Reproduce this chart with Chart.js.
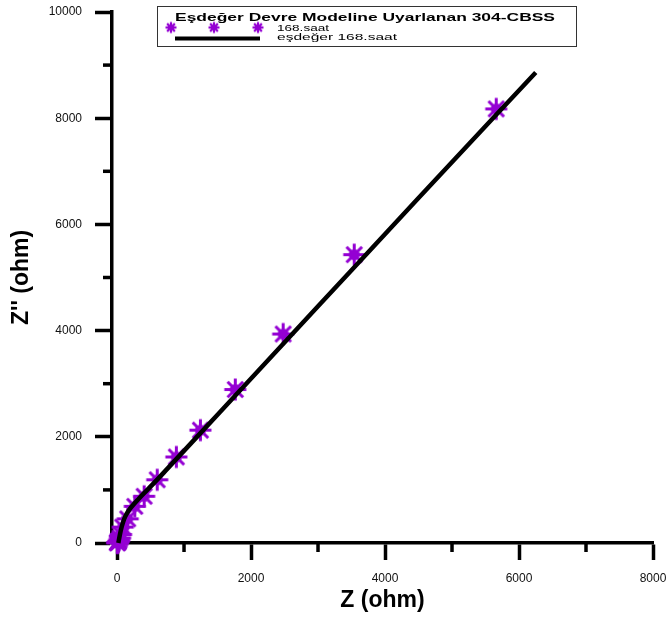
<!DOCTYPE html>
<html>
<head>
<meta charset="utf-8">
<script src="https://cdn.jsdelivr.net/npm/chart.js@4/dist/chart.umd.min.js"></script>
<style>
  html, body { margin: 0; padding: 0; background: #fff; }
  #wrap { width: 671px; height: 618px; }
</style>
</head>
<body>
<div id="wrap"><canvas id="c" width="671" height="618"></canvas></div>
<script>
// Measured impedance, 168 h immersion (Nyquist: Z' vs Z'')
const measZre = [5660, 3540, 2480, 1765, 1245, 885, 600, 405, 265, 160, 85, 60, 45, 32, 22, 14, 8, 4];
const measZim = [8175, 5430, 3935, 2890, 2125, 1620, 1190, 880, 690, 455, 300, 160, 95, 55, 30, 15, 8, 3];

// Equivalent-circuit fit curve
const fitZre = [20, 45, 70, 95, 120, 160, 205, 600, 1500, 3000, 4500, 6250];
const fitZim = [0, 170, 306, 410, 493, 585, 663, 1193, 2417, 4457, 6497, 8860];

// Axis ticks
const xTicks = [0, 1000, 2000, 3000, 4000, 5000, 6000, 7000, 8000];
const yTicks = [0, 1000, 2000, 3000, 4000, 5000, 6000, 7000, 8000, 9000, 10000];

const legendTitle = 'Eşdeğer Devre Modeline Uyarlanan 304-CBSS';
const measLabel = '168.saat';
const fitLabel = 'eşdeğer 168.saat';

const PURPLE = '#9400d3';
const FONT = "'Liberation Sans', Arial, sans-serif";

function starMarker(r, core, lw, color) {
  const size = Math.ceil(2 * r + lw + 2);
  const c = document.createElement('canvas');
  c.width = c.height = size;
  const g = c.getContext('2d');
  const m = size / 2;
  g.strokeStyle = color;
  g.lineWidth = lw;
  for (let i = 0; i < 4; i++) {
    const a = i * Math.PI / 4;
    g.beginPath();
    g.moveTo(m - r * Math.cos(a), m - r * Math.sin(a));
    g.lineTo(m + r * Math.cos(a), m + r * Math.sin(a));
    g.stroke();
  }
  g.fillStyle = color;
  g.beginPath();
  g.arc(m, m, core, 0, Math.PI * 2);
  g.fill();
  return c;
}

const bigStar = starMarker(11, 5.5, 3, PURPLE);
const smallStar = starMarker(5.5, 2.8, 2.2, PURPLE);

const isMajor = v => v % 2000 === 0;

// Minor ticks (shorter) on both axes
const minorTicks = {
  id: 'minorTicks',
  afterDraw(chart) {
    const { ctx } = chart;
    const xs = chart.scales.x, ys = chart.scales.y;
    ctx.save();
    ctx.strokeStyle = '#000';
    ctx.lineWidth = 3.5;
    xTicks.filter(v => !isMajor(v)).forEach(v => {
      const px = xs.getPixelForValue(v);
      ctx.beginPath();
      ctx.moveTo(px, chart.chartArea.bottom);
      ctx.lineTo(px, chart.chartArea.bottom + 9);
      ctx.stroke();
    });
    yTicks.filter(v => !isMajor(v)).forEach(v => {
      const py = ys.getPixelForValue(v);
      ctx.beginPath();
      ctx.moveTo(chart.chartArea.left, py);
      ctx.lineTo(chart.chartArea.left - 9, py);
      ctx.stroke();
    });
    ctx.restore();
  }
};

// Text drawn with a horizontal stretch to a given width
function stretchText(ctx, text, x, y, width) {
  const w = ctx.measureText(text).width;
  ctx.save();
  ctx.translate(x, y);
  ctx.scale(width / w, 1);
  ctx.fillText(text, 0, 0);
  ctx.restore();
}

// Boxed legend with title, marker row and line row
const boxLegend = {
  id: 'boxLegend',
  afterDraw(chart) {
    const { ctx } = chart;
    const ds = chart.data.datasets;
    const bx = 157, by = 6, bw = 419, bh = 40;
    ctx.save();
    ctx.fillStyle = '#fff';
    ctx.fillRect(bx, by, bw, bh);
    ctx.strokeStyle = '#333';
    ctx.lineWidth = 1;
    ctx.strokeRect(bx + 0.5, by + 0.5, bw, bh);

    ctx.fillStyle = '#000';
    ctx.textBaseline = 'alphabetic';
    ctx.textAlign = 'left';
    ctx.font = 'bold 10.5px ' + FONT;
    stretchText(ctx, legendTitle, 175, 20.5, 380);

    [171, 214, 258].forEach(cx => {
      ctx.drawImage(smallStar, cx - smallStar.width / 2, 27.5 - smallStar.height / 2);
    });
    ctx.font = '9.5px ' + FONT;
    stretchText(ctx, ds[1].label, 277, 31, 52);

    ctx.strokeStyle = '#000';
    ctx.lineWidth = 4;
    ctx.beginPath();
    ctx.moveTo(175, 38.5);
    ctx.lineTo(260, 38.5);
    ctx.stroke();
    stretchText(ctx, ds[0].label, 277, 40, 120);
    ctx.restore();
  }
};

new Chart(document.getElementById('c'), {
  type: 'scatter',
  data: {
    datasets: [
      {
        label: fitLabel,
        data: fitZre.map((x, i) => ({ x, y: fitZim[i] })),
        showLine: true,
        borderColor: '#000',
        borderWidth: 4.5,
        pointRadius: 0,
        cubicInterpolationMode: 'monotone',
        clip: false
      },
      {
        label: measLabel,
        data: measZre.map((x, i) => ({ x, y: measZim[i] })),
        pointStyle: bigStar,
        pointRadius: 11,
        showLine: false,
        clip: false
      }
    ]
  },
  options: {
    responsive: false,
    animation: false,
    layout: { padding: { top: 10, right: 18, left: 0, bottom: 0 } },
    plugins: { legend: { display: false }, tooltip: { enabled: false } },
    scales: {
      x: {
        type: 'linear',
        min: -75,
        max: 8000,
        afterFit: s => { s.height = 75; s.paddingLeft = 0; s.paddingRight = 0; },
        afterBuildTicks: s => { s.ticks = xTicks.map(v => ({ value: v })); },
        border: { display: true, color: '#000', width: 3.5 },
        grid: {
          drawOnChartArea: false,
          drawTicks: true,
          tickLength: 17,
          tickWidth: 3.5,
          tickColor: c => (c.tick && isMajor(c.tick.value)) ? '#000' : 'rgba(0,0,0,0)'
        },
        ticks: {
          autoSkip: false,
          maxRotation: 0,
          padding: 11,
          color: '#111',
          font: { family: FONT, size: 12 },
          callback: v => isMajor(v) ? String(v) : ''
        },
        title: {
          display: true,
          text: 'Z (ohm)',
          color: '#000',
          font: { family: FONT, size: 23, weight: 'bold' },
          padding: { top: 0, bottom: 4 }
        }
      },
      y: {
        type: 'linear',
        min: 0,
        max: 10000,
        afterFit: s => { s.width = 112; s.paddingTop = 0; s.paddingBottom = 0; },
        afterBuildTicks: s => { s.ticks = yTicks.map(v => ({ value: v })); },
        border: { display: true, color: '#000', width: 3.5 },
        grid: {
          drawOnChartArea: false,
          drawTicks: true,
          tickLength: 17,
          tickWidth: 3.5,
          tickColor: c => (c.tick && isMajor(c.tick.value)) ? '#000' : 'rgba(0,0,0,0)'
        },
        ticks: {
          autoSkip: false,
          padding: 13,
          color: '#111',
          font: { family: FONT, size: 12 },
          callback: v => isMajor(v) ? String(v) : ''
        },
        title: {
          display: true,
          text: "Z'' (ohm)",
          color: '#000',
          font: { family: FONT, size: 23, weight: 'bold' },
          padding: { top: 8, bottom: 0 }
        }
      }
    }
  },
  plugins: [minorTicks, boxLegend]
});
</script>
</body>
</html>
